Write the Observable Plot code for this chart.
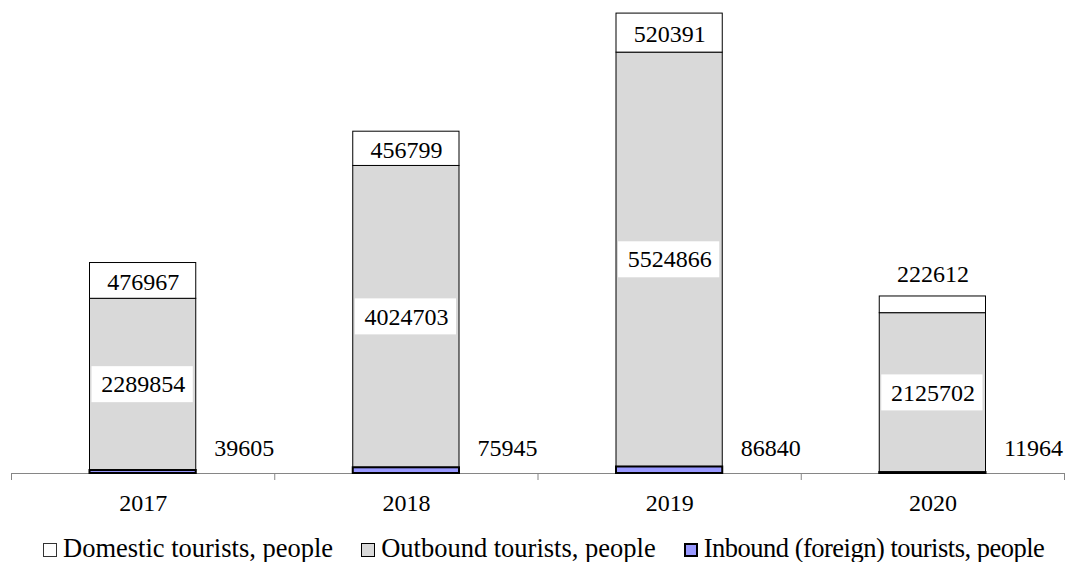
<!DOCTYPE html>
<html><head><meta charset="utf-8">
<script src="https://cdn.jsdelivr.net/npm/d3@7"></script>
<script src="https://cdn.jsdelivr.net/npm/@observablehq/plot@0.6"></script>
<style>
body{margin:0;background:#fff;font-family:"Liberation Serif","Times New Roman",serif;}
#wrap{position:relative;width:1066px;height:562px;overflow:hidden;}
#legend{position:absolute;left:43px;top:535px;display:flex;align-items:center;font-size:26.5px;line-height:26px;white-space:nowrap;color:#000;}
.item{display:flex;align-items:center;margin-right:28px}
.item:last-child{margin-right:0;letter-spacing:-0.5px}
.sw{box-sizing:border-box;width:14px;height:14px;border:1px solid #000;margin-right:6px;position:relative;top:2px}
</style></head><body><div id="wrap"><div id="chart"></div><div id="legend"></div></div>
<script>
const years = ["2017", "2018", "2019", "2020"];
const domestic = [476967, 456799, 520391, 222612];
const outbound = [2289854, 4024703, 5524866, 2125702];
const inbound = [39605, 75945, 86840, 11964];
const seriesNames = ["Domestic tourists, people", "Outbound tourists, people", "Inbound (foreign) tourists, people"];
const seriesColors = ["#ffffff", "#d9d9d9", "#9999ff"];
const seriesStroke = [1, 1, 2];

const rows = years.map((year, i) => {
  const a = inbound[i], b = a + outbound[i], c = b + domestic[i];
  return {i, year, inb: inbound[i], out: outbound[i], dom: domestic[i], a, b, c};
});
const yMax = 6200000;
const FONT = '"Liberation Serif","Times New Roman",serif';
const barInset = 78.5;
const ax = "#868686";

const chart = Plot.plot({
  width: 1066,
  height: 525,
  marginLeft: 11,
  marginRight: 2,
  marginTop: 8,
  marginBottom: 52,
  x: {type: "linear", domain: [0, years.length]},
  y: {domain: [0, yMax], axis: null},
  style: {fontFamily: FONT, background: "white", color: "#000"},
  marks: [
    Plot.ruleY([0], {stroke: ax, strokeWidth: 1}),
    Plot.axisX({ticks: d3.range(years.length + 1), tickSize: 7, tickFormat: () => "", stroke: ax, label: null}),
    // outbound
    Plot.rect(rows, {x1: d => d.i, x2: d => d.i + 1, y1: "a", y2: "b", insetLeft: barInset, insetRight: barInset,
      fill: seriesColors[1], stroke: "#000", strokeWidth: seriesStroke[1]}),
    // domestic
    Plot.rect(rows, {x1: d => d.i, x2: d => d.i + 1, y1: "b", y2: "c", insetLeft: barInset, insetRight: barInset,
      fill: seriesColors[0], stroke: "#000", strokeWidth: seriesStroke[0]}),
    // inbound
    Plot.rect(rows, {x1: d => d.i, x2: d => d.i + 1, y1: d => 0, y2: "a", insetLeft: barInset, insetRight: barInset,
      fill: seriesColors[2], stroke: "#000", strokeWidth: seriesStroke[2]}),
    // outbound label backgrounds
    Plot.rect(rows, {x1: d => d.i, x2: d => d.i + 1, y1: d => (d.a + d.b) / 2, y2: d => (d.a + d.b) / 2,
      insetLeft: barInset + 2, insetRight: barInset + 3, insetTop: -18, insetBottom: -18, fill: "white"}),
    Plot.text(rows, {x: d => d.i + 0.5, y: d => (d.a + d.b) / 2, text: d => String(d.out),
      fontSize: 24, fontFamily: FONT, fill: "#000", lineAnchor: "middle"}),
    // domestic labels (inside when the segment is tall enough, else above)
    Plot.text(rows.filter(d => d.dom / yMax >= 0.05), {x: d => d.i + 0.5, y: d => (d.b + d.c) / 2, text: d => String(d.dom),
      fontSize: 24, fontFamily: FONT, fill: "#000", lineAnchor: "middle", dy: 1}),
    Plot.text(rows.filter(d => d.dom / yMax < 0.05), {x: d => d.i + 0.5, y: "c", text: d => String(d.dom),
      fontSize: 24, fontFamily: FONT, fill: "#000", lineAnchor: "middle", dy: -22}),
    // inbound labels to the right of each bar
    Plot.text(rows, {x: d => d.i + 1, y: d => 0, text: d => String(d.inb), textAnchor: "start", dx: -barInset + 18, dy: -25,
      fontSize: 24, fontFamily: FONT, fill: "#000", lineAnchor: "middle"}),
    // category labels
    Plot.text(rows, {x: d => d.i + 0.5, y: d => 0, text: "year", dy: 30,
      fontSize: 24, fontFamily: FONT, fill: "#000", lineAnchor: "middle"})
  ]
});
document.getElementById("chart").appendChild(chart);

const legend = document.getElementById("legend");
seriesNames.forEach((name, k) => {
  const item = document.createElement("div");
  item.className = "item";
  const sw = document.createElement("span");
  sw.className = "sw";
  sw.style.background = seriesColors[k];
  sw.style.borderWidth = seriesStroke[k] + "px";
  if (k === 0) sw.style.borderColor = "#333";
  const t = document.createElement("span");
  t.textContent = name;
  item.appendChild(sw);
  item.appendChild(t);
  legend.appendChild(item);
});
</script></body></html>
